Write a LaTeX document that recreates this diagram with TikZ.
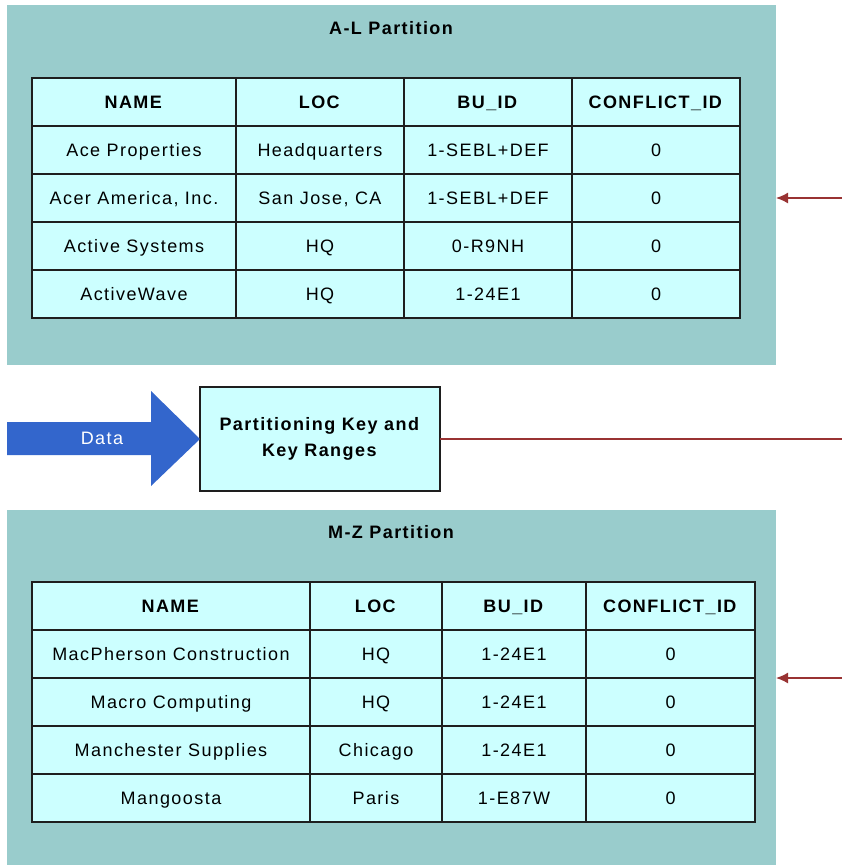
\documentclass[tikz,border=0pt]{standalone}
\usepackage{fontspec}
\setmainfont{Liberation Sans}[LetterSpace=8]
\usetikzlibrary{arrows.meta}
\definecolor{panelc}{HTML}{99CCCC}
\definecolor{cellc}{HTML}{CCFFFF}
\definecolor{datab}{HTML}{3366CC}
\definecolor{redl}{HTML}{993333}
\definecolor{gridc}{HTML}{1E1E1E}
\newcommand{\tcell}[6]{\node[cellbox, minimum width={(#3-#2)*1pt}, minimum height={(#5-#4)*1pt}] (#1) at ({(#2+#3)/2},{(#4+#5)/2}) {#6};}
\begin{document}
\begin{tikzpicture}[x=1pt,y=-1pt,
  font=\fontsize{18pt}{26pt}\selectfont,
  cellbox/.style={draw=gridc, line width=1.5pt, fill=cellc, inner sep=0pt, outer sep=0pt, anchor=center, text height=13pt, text depth=0pt},
  panel/.style={fill=panelc, draw=none, inner sep=0pt, outer sep=0pt},
  keybox/.style={draw=gridc, line width=1.5pt, fill=cellc, inner sep=0pt, outer sep=0pt, align=center},
  titletext/.style={font=\fontsize{18pt}{26pt}\selectfont\bfseries, text height=13pt, text depth=0pt},
  redline/.style={draw=redl, line width=1.5pt},
  redarrow/.style={redline, -{Latex[length=12pt,width=11pt]}}]
\useasboundingbox (0,0) rectangle (842,865);
% panels
\node[panel, minimum width=769pt, minimum height=360pt] (p1) at (391.5,185) {};
\node[panel, minimum width=769pt, minimum height=355pt] (p2) at (391.5,687.5) {};
\node[titletext] (t1) at (391,28) {A-L Partition};
\node[titletext] (t2) at (391,532) {M-Z Partition};
% table 1
\tcell{a00}{32}{236}{78}{126}{\textbf{NAME}}
\tcell{a01}{236}{404}{78}{126}{\textbf{LOC}}
\tcell{a02}{404}{572}{78}{126}{\textbf{BU\_ID}}
\tcell{a03}{572}{740}{78}{126}{\textbf{CONFLICT\_ID}}
\tcell{a10}{32}{236}{126}{174}{Ace Properties}
\tcell{a11}{236}{404}{126}{174}{Headquarters}
\tcell{a12}{404}{572}{126}{174}{1-SEBL+DEF}
\tcell{a13}{572}{740}{126}{174}{0}
\tcell{a20}{32}{236}{174}{222}{Acer America, Inc.}
\tcell{a21}{236}{404}{174}{222}{San Jose, CA}
\tcell{a22}{404}{572}{174}{222}{1-SEBL+DEF}
\tcell{a23}{572}{740}{174}{222}{0}
\tcell{a30}{32}{236}{222}{270}{Active Systems}
\tcell{a31}{236}{404}{222}{270}{HQ}
\tcell{a32}{404}{572}{222}{270}{0-R9NH}
\tcell{a33}{572}{740}{222}{270}{0}
\tcell{a40}{32}{236}{270}{318}{ActiveWave}
\tcell{a41}{236}{404}{270}{318}{HQ}
\tcell{a42}{404}{572}{270}{318}{1-24E1}
\tcell{a43}{572}{740}{270}{318}{0}
% table 2
\tcell{b00}{32}{310}{582}{630}{\textbf{NAME}}
\tcell{b01}{310}{442}{582}{630}{\textbf{LOC}}
\tcell{b02}{442}{586}{582}{630}{\textbf{BU\_ID}}
\tcell{b03}{586}{755}{582}{630}{\textbf{CONFLICT\_ID}}
\tcell{b10}{32}{310}{630}{678}{MacPherson Construction}
\tcell{b11}{310}{442}{630}{678}{HQ}
\tcell{b12}{442}{586}{630}{678}{1-24E1}
\tcell{b13}{586}{755}{630}{678}{0}
\tcell{b20}{32}{310}{678}{726}{Macro Computing}
\tcell{b21}{310}{442}{678}{726}{HQ}
\tcell{b22}{442}{586}{678}{726}{1-24E1}
\tcell{b23}{586}{755}{678}{726}{0}
\tcell{b30}{32}{310}{726}{774}{Manchester Supplies}
\tcell{b31}{310}{442}{726}{774}{Chicago}
\tcell{b32}{442}{586}{726}{774}{1-24E1}
\tcell{b33}{586}{755}{726}{774}{0}
\tcell{b40}{32}{310}{774}{822}{Mangoosta}
\tcell{b41}{310}{442}{774}{822}{Paris}
\tcell{b42}{442}{586}{774}{822}{1-E87W}
\tcell{b43}{586}{755}{774}{822}{0}
% key box and data arrow
\node[keybox, minimum width=240pt, minimum height=104pt] (key) at (320,439) {\textbf{Partitioning Key and}\\\textbf{Key Ranges}};
\fill[datab] (7,422) -- (151,422) -- (151,391) -- (key.west) -- (151,486) -- (151,455) -- (7,455) -- cycle;
\node[text=white, text height=13pt, text depth=0pt, inner sep=0pt] (data) at (102,438) {Data};
% red connectors
\coordinate (r0) at (842,439);
\coordinate (r1) at (842,198);
\coordinate (r2) at (842,678);
\draw[redline] (key.east) -- (r0);
\draw[redarrow] (r1) -- (r1 -| p1.east);
\draw[redarrow] (r2) -- (r2 -| p2.east);
\end{tikzpicture}
\end{document}
